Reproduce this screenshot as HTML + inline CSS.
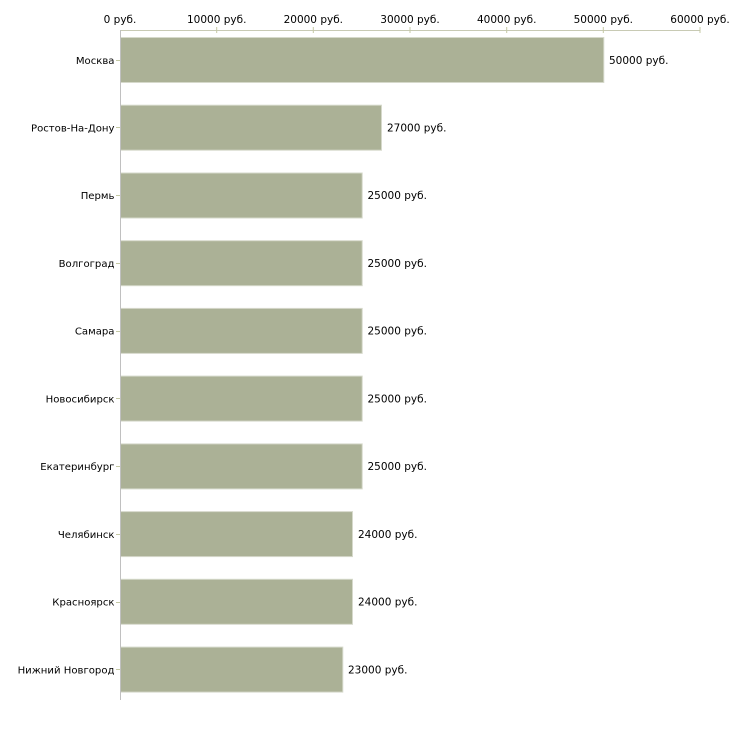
<!DOCTYPE html>
<html><head><meta charset="utf-8"><style>
html,body{margin:0;padding:0;background:#fff;}
svg{display:block;}
text{font-family:"DejaVu Sans","Liberation Sans",sans-serif;font-size:10.5px;fill:#000;}
text.c{font-size:10.1px;}
</style></head><body>
<svg width="730" height="730" xmlns="http://www.w3.org/2000/svg">
<g>
<text x="120" y="23" text-anchor="middle">0 руб.</text>
<text x="216.7" y="23" text-anchor="middle">10000 руб.</text>
<text x="313.3" y="23" text-anchor="middle">20000 руб.</text>
<text x="410" y="23" text-anchor="middle">30000 руб.</text>
<text x="506.7" y="23" text-anchor="middle">40000 руб.</text>
<text x="603.3" y="23" text-anchor="middle">50000 руб.</text>
<text x="700" y="23" text-anchor="middle">60000 руб.</text>
</g>
<line x1="120" y1="30.5" x2="700" y2="30.5" stroke="#c8cab4" stroke-width="1"/>
<g stroke="#c4c8a4" stroke-width="1">
<line x1="216.7" y1="27" x2="216.7" y2="33"/>
<line x1="313.3" y1="27" x2="313.3" y2="33"/>
<line x1="410" y1="27" x2="410" y2="33"/>
<line x1="506.7" y1="27" x2="506.7" y2="33"/>
<line x1="603.3" y1="27" x2="603.3" y2="33"/>
<line x1="700" y1="27" x2="700" y2="33"/>
</g>
<g fill="#abb196" stroke="#d6d9cb" stroke-width="1">
<rect x="120.5" y="37.5" width="483.3" height="45"/>
<rect x="120.5" y="105.2" width="261" height="45"/>
<rect x="120.5" y="173" width="241.7" height="45"/>
<rect x="120.5" y="240.7" width="241.7" height="45"/>
<rect x="120.5" y="308.4" width="241.7" height="45"/>
<rect x="120.5" y="376.1" width="241.7" height="45"/>
<rect x="120.5" y="443.9" width="241.7" height="45"/>
<rect x="120.5" y="511.6" width="232" height="45"/>
<rect x="120.5" y="579.3" width="232" height="45"/>
<rect x="120.5" y="647.1" width="222.3" height="45"/>
</g>
<line x1="120.5" y1="30" x2="120.5" y2="700" stroke="#c0c0c0" stroke-width="1"/>
<g stroke="#c4c8a4" stroke-width="1">
<line x1="116" y1="60.5" x2="120" y2="60.5"/>
<line x1="116" y1="127.5" x2="120" y2="127.5"/>
<line x1="116" y1="195.5" x2="120" y2="195.5"/>
<line x1="116" y1="263.5" x2="120" y2="263.5"/>
<line x1="116" y1="331.5" x2="120" y2="331.5"/>
<line x1="116" y1="398.5" x2="120" y2="398.5"/>
<line x1="116" y1="466.5" x2="120" y2="466.5"/>
<line x1="116" y1="534.5" x2="120" y2="534.5"/>
<line x1="116" y1="602.5" x2="120" y2="602.5"/>
<line x1="116" y1="669.5" x2="120" y2="669.5"/>
</g>
<g text-anchor="end">
<text class="c" x="114.5" y="64">Москва</text>
<text class="c" x="114.5" y="131.5">Ростов-На-Дону</text>
<text class="c" x="114.5" y="199.2">Пермь</text>
<text class="c" x="114.5" y="267">Волгоград</text>
<text class="c" x="114.5" y="334.7">Самара</text>
<text class="c" x="114.5" y="402.4">Новосибирск</text>
<text class="c" x="114.5" y="470.1">Екатеринбург</text>
<text class="c" x="114.5" y="537.9">Челябинск</text>
<text class="c" x="114.5" y="605.6">Красноярск</text>
<text class="c" x="114.5" y="673.3">Нижний Новгород</text>
</g>
<g>
<text x="609" y="64">50000 руб.</text>
<text x="387" y="131.5">27000 руб.</text>
<text x="367.5" y="199.2">25000 руб.</text>
<text x="367.5" y="267">25000 руб.</text>
<text x="367.5" y="334.7">25000 руб.</text>
<text x="367.5" y="402.4">25000 руб.</text>
<text x="367.5" y="470.1">25000 руб.</text>
<text x="358" y="537.9">24000 руб.</text>
<text x="358" y="605.6">24000 руб.</text>
<text x="348" y="673.3">23000 руб.</text>
</g>
</svg>
</body></html>
